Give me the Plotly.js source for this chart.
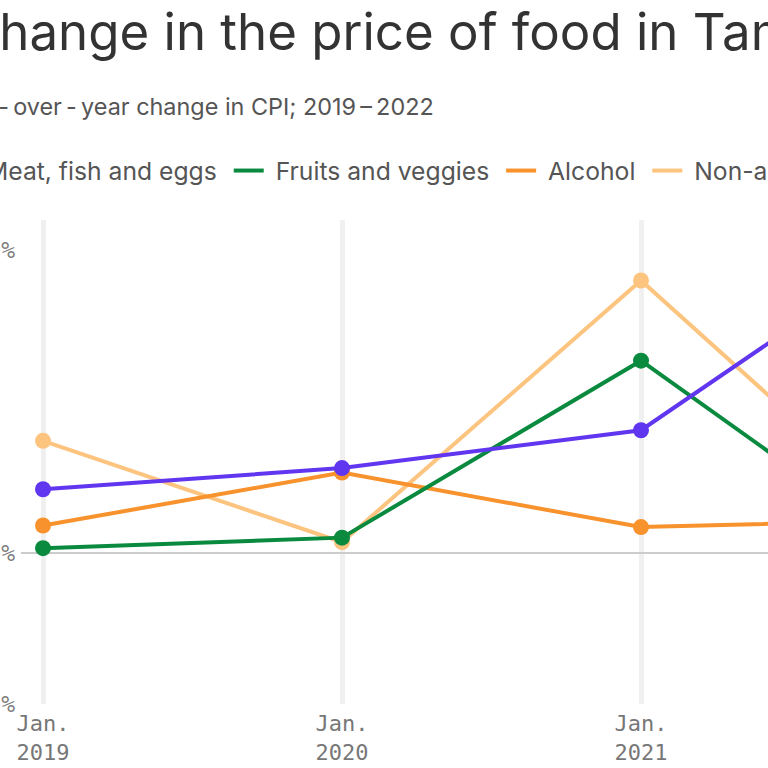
<!DOCTYPE html>
<html>
<head>
<meta charset="utf-8">
<script src="https://cdn.plot.ly/plotly-3.0.1.min.js"></script>
<style>
html,body{margin:0;padding:0;width:768px;height:768px;overflow:hidden;background:#fff;}
#chart{position:absolute;left:-200px;top:0;width:1462px;height:768px;}
</style>
</head>
<body>
<div id="chart"></div>
<script>
// Data (year-over-year % change, January of each year)
var years = [2019, 2020, 2021, 2022];
var tickLabels = ["Jan.<br>2019", "Jan.<br>2020", "Jan.<br>2021", "Jan.<br>2022"];
var meatFishEggs = [2.1, 2.8, 4.05, 10.8];
var fruitsVeggies = [0.15, 0.5, 6.35, -0.7];
var alcohol = [0.9, 2.65, 0.85, 1.1];
var nonAlcoholic = [3.7, 0.35, 9.0, 0.1];
var yTickVals = [-5, 0, 10];
var yTickText = ["-5%", "0%", "10%"];
var seriesNames = ["Non-alcoholic beverages", "Alcohol", "Fruits and veggies", "Meat, fish and eggs"];
var seriesColors = ["#fdc47f", "#f7922d", "#0a8a3e", "#6136f0"];
var seriesValues = [nonAlcoholic, alcohol, fruitsVeggies, meatFishEggs];

var traces = [];
seriesNames.forEach(function(name, i){
  traces.push({
    type: "scatter", mode: "lines", name: "\u00a0" + name + "\u00a0",
    x: years, y: seriesValues[i], legendrank: 10 - i,
    line: {color: seriesColors[i], width: 4}, showlegend: true
  });
  traces.push({
    type: "scatter", mode: "markers", name: name,
    x: years, y: seriesValues[i],
    marker: {color: seriesColors[i], size: 16}, showlegend: false
  });
});

var OFF = 200;
var W = 1462, L = 221, R = 300, T = 220, B = 64;
var PW = W - L - R, PH = 768 - T - B;
function px(xs){ return (xs + OFF - L) / PW; }
function py(ys){ return (768 - B - ys) / PH; }

var layout = {
  width: W, height: 768,
  margin: {l: L, r: R, t: T, b: B, pad: 0, autoexpand: false},
  paper_bgcolor: "#ffffff", plot_bgcolor: "#ffffff",
  showlegend: true,
  font: {family: "Inter, 'Noto Sans', sans-serif", color: "#555555"},
  xaxis: {
    range: [2019 - 22/299, 2022 + 22/299],
    tickvals: years, ticktext: tickLabels,
    showgrid: true, gridcolor: "#f0f0f0", gridwidth: 5,
    zeroline: false, showline: false, ticks: "", ticklabelstandoff: 4,
    tickfont: {family: "'DejaVu Sans Mono', monospace", size: 22, color: "#777777"},
    automargin: false, fixedrange: true
  },
  yaxis: {
    range: [-5, 11],
    tickvals: yTickVals, ticktext: yTickText,
    showgrid: false, zeroline: true, zerolinecolor: "#cccccc", zerolinewidth: 2,
    showline: false, ticks: "", ticklabelstandoff: 5,
    tickfont: {family: "'DejaVu Sans Mono', monospace", size: 23, color: "#808080"},
    automargin: false, fixedrange: true
  },
  legend: {
    orientation: "h",
    x: px(-61), xanchor: "left", y: py(148), yanchor: "top",
    font: {family: "Inter, 'Noto Sans', sans-serif", size: 24.7, color: "#555555"},
    bgcolor: "rgba(0,0,0,0)"
  },
  annotations: [
    {text: "Change in the price of food in Tampa", xref: "paper", yref: "paper",
     x: px(-40), y: py(32), xanchor: "left", yanchor: "middle", showarrow: false,
     font: {family: "Inter, 'Noto Sans', sans-serif", size: 51, color: "#333333"}},
    {text: "Year\u2009-\u2009over\u2009-\u2009year change in CPI; 2019\u2009\u2013\u20092022", xref: "paper", yref: "paper",
     x: px(-58), y: py(107), xanchor: "left", yanchor: "middle", showarrow: false,
     font: {family: "Inter, 'Noto Sans', sans-serif", size: 23.4, color: "#555555"}}
  ]
};

Plotly.newPlot("chart", traces, layout, {displayModeBar: false, staticPlot: true});
</script>
</body>
</html>
